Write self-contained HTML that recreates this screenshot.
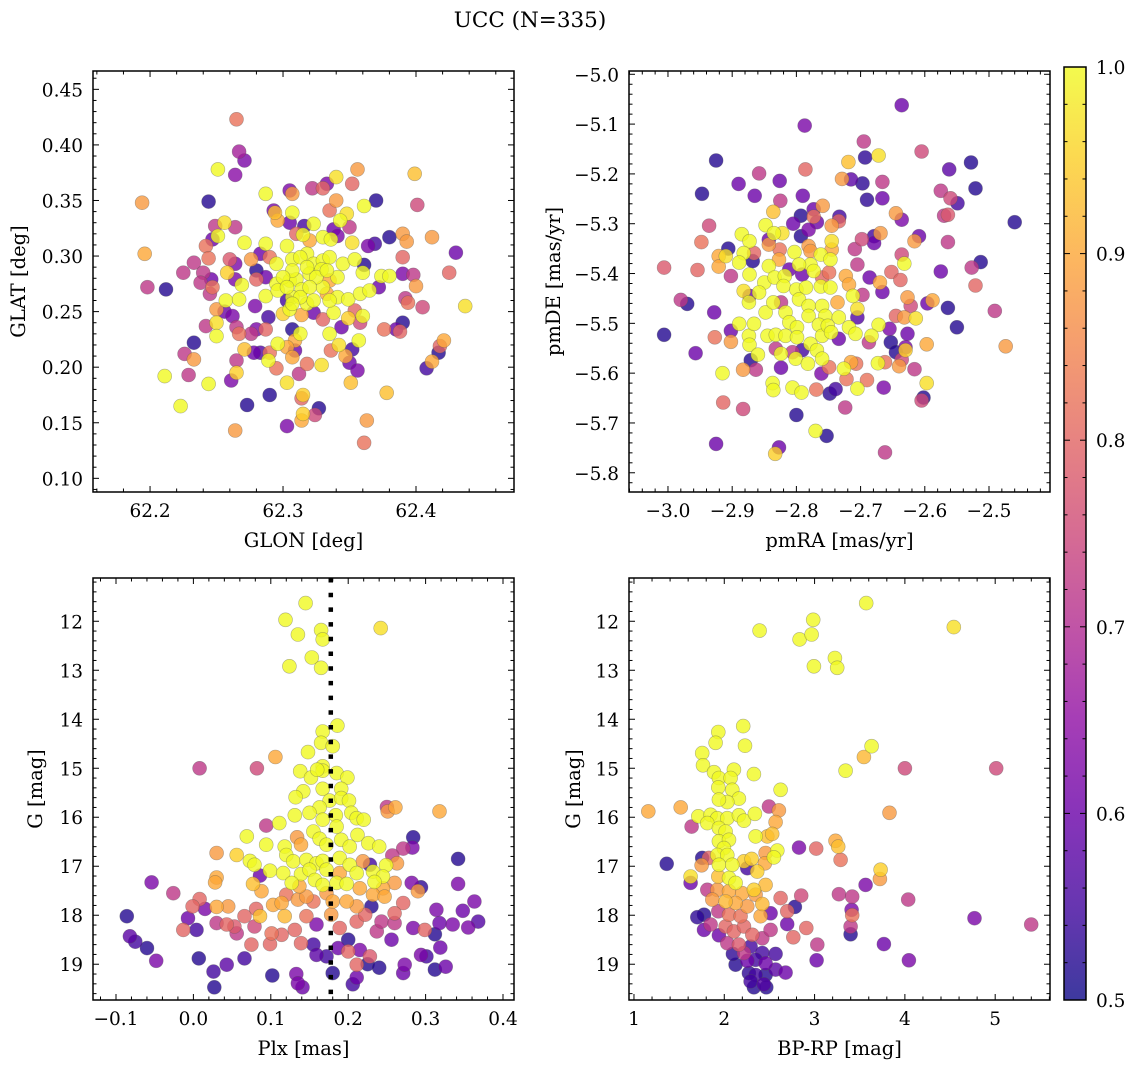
<!DOCTYPE html>
<html><head><meta charset="utf-8"><style>
html,body{margin:0;padding:0;background:#fff;}
svg{display:block;font-family:"DejaVu Serif","Liberation Serif",serif;}
</style></head><body>
<svg id="fig" width="1136" height="1067" viewBox="0 0 1136 1067">
<defs>
<linearGradient id="cbgrad" x1="0" y1="1" x2="0" y2="0">
<stop offset="0" stop-color="#0d0887"/><stop offset="0.1" stop-color="#41049d"/><stop offset="0.2" stop-color="#6a00a8"/><stop offset="0.3" stop-color="#8f0da4"/><stop offset="0.4" stop-color="#b12a90"/><stop offset="0.5" stop-color="#cc4778"/><stop offset="0.6" stop-color="#e16462"/><stop offset="0.7" stop-color="#f2844b"/><stop offset="0.8" stop-color="#fca636"/><stop offset="0.9" stop-color="#fcce25"/><stop offset="1" stop-color="#f0f921"/>
</linearGradient>
</defs>
<text x="530" y="27" text-anchor="middle" font-size="21.5">UCC (N=335)</text>
</svg>
<script>
// ---------- DATA ----------
const glonGlatProb = [
[62.265,.423,.82],[62.267,.394,.68],[62.271,.386,.62],[62.264,.373,.64],[62.251,.378,1],[62.194,.348,.88],[62.244,.349,.52],[62.287,.356,1],[62.305,.359,.62],[62.307,.356,.88],
[62.322,.361,.72],[62.330,.361,.8],[62.333,.365,.62],[62.340,.371,.97],[62.352,.365,.8],[62.356,.378,.88],[62.399,.374,.93],[62.370,.350,.52],[62.401,.346,.75],[62.361,.345,1],
[62.293,.341,.62],[62.294,.339,.93],[62.307,.339,1],[62.296,.332,.9],[62.305,.330,.6],[62.316,.327,.55],[62.323,.329,1],[62.338,.324,.6],[62.343,.332,1],[62.348,.338,.97],
[62.335,.341,.82],[62.340,.350,.88],[62.350,.326,.72],[62.256,.330,.97],[62.249,.327,.72],[62.264,.326,.72],[62.251,.318,1],[62.247,.315,.6],[62.242,.309,.82],[62.271,.312,1],
[62.287,.311,1],[62.303,.309,1],[62.315,.319,1],[62.310,.320,.8],[62.320,.314,.9],[62.330,.317,1],[62.336,.315,1],[62.341,.318,.62],[62.352,.312,.97],[62.364,.309,.62],
[62.369,.311,.55],[62.380,.317,.52],[62.390,.320,.88],[62.393,.313,.88],[62.412,.317,.88],[62.430,.303,.6],[62.196,.302,.9],[62.233,.294,.72],[62.244,.298,.82],[62.260,.297,.78],
[62.264,.293,.62],[62.276,.297,.88],[62.283,.302,.6],[62.290,.299,.82],[62.295,.293,1],[62.307,.297,1],[62.318,.302,1],[62.323,.293,1],[62.330,.296,1],[62.335,.299,1],
[62.345,.293,1],[62.354,.297,1],[62.361,.292,.52],[62.360,.285,1],[62.374,.282,1],[62.380,.282,1],[62.390,.284,.62],[62.398,.283,.72],[62.390,.299,.8],[62.425,.285,.8],
[62.400,.273,.88],[62.372,.272,.6],[62.225,.285,.72],[62.240,.285,.72],[62.238,.276,.72],[62.246,.279,.6],[62.247,.272,.82],[62.245,.266,.72],[62.258,.285,.95],[62.264,.279,.62],
[62.269,.274,1],[62.280,.287,.52],[62.287,.281,.6],[62.280,.279,.8],[62.295,.275,1],[62.305,.278,1],[62.310,.279,1],[62.314,.270,1],[62.320,.284,1],[62.329,.288,1],
[62.330,.272,1],[62.335,.278,.9],[62.341,.281,1],[62.198,.272,.72],[62.212,.270,.52],[62.257,.260,1],[62.267,.261,1],[62.287,.264,1],[62.296,.269,1],[62.303,.260,.55],
[62.307,.263,1],[62.318,.257,1],[62.323,.260,1],[62.333,.266,.9],[62.341,.263,1],[62.349,.261,1],[62.358,.266,1],[62.365,.269,1],[62.392,.262,.72],[62.394,.258,.82],
[62.405,.254,.75],[62.437,.255,.97],[62.250,.252,.88],[62.256,.250,.6],[62.262,.246,.62],[62.279,.255,.62],[62.289,.245,.55],[62.300,.248,.95],[62.305,.252,1],[62.314,.247,.9],
[62.323,.249,.6],[62.330,.243,.8],[62.338,.249,1],[62.349,.244,.95],[62.354,.251,.8],[62.358,.240,.75],[62.360,.246,1],[62.242,.237,.72],[62.250,.240,.97],[62.250,.228,1],
[62.265,.236,.72],[62.267,.230,.82],[62.276,.230,.72],[62.280,.234,.62],[62.287,.234,.8],[62.307,.234,.52],[62.313,.230,1],[62.309,.224,.9],[62.296,.221,1],[62.303,.218,.9],
[62.335,.230,1],[62.344,.236,.6],[62.376,.234,.82],[62.385,.234,.6],[62.390,.240,.52],[62.388,.232,.8],[62.421,.224,.9],[62.418,.219,.8],[62.417,.213,.52],[62.412,.205,.9],
[62.408,.199,.55],[62.233,.222,.52],[62.226,.212,.72],[62.233,.207,.88],[62.271,.216,.93],[62.278,.213,.6],[62.283,.213,.57],[62.290,.213,.82],[62.289,.206,1],[62.295,.199,.82],
[62.307,.209,.9],[62.309,.215,.6],[62.318,.203,.82],[62.329,.202,.97],[62.336,.215,.82],[62.342,.220,.97],[62.347,.210,.9],[62.352,.216,.55],[62.350,.204,.6],[62.356,.197,.62],
[62.357,.224,1],[62.265,.206,.72],[62.265,.195,.95],[62.261,.188,.62],[62.229,.193,.72],[62.211,.192,1],[62.244,.185,1],[62.303,.186,.97],[62.312,.194,.72],[62.351,.186,.93],
[62.378,.177,.93],[62.223,.165,1],[62.273,.166,.52],[62.290,.175,.52],[62.315,.175,.95],[62.314,.172,.8],[62.315,.158,.95],[62.314,.152,.9],[62.324,.157,.75],[62.327,.163,.52],
[62.303,.147,.62],[62.264,.143,.88],[62.363,.152,.88],[62.361,.132,.82],
[62.313,.299,1],[62.318,.290,1],[62.307,.287,1],[62.325,.281,1],[62.333,.287,1],[62.313,.263,1],[62.300,.281,1],[62.320,.272,1],[62.335,.260,1],[62.303,.272,1],[62.307,.257,1]
];
const pmraPmdeProb = [
[-2.636,-5.062,.6],[-2.787,-5.103,.62],[-2.695,-5.135,.72],[-2.605,-5.155,.75],[-2.925,-5.173,.52],[-2.719,-5.176,.93],[-2.693,-5.167,.53],[-2.672,-5.163,.97],[-2.528,-5.177,.52],[-2.562,-5.191,.58],
[-2.521,-5.229,.52],[-2.786,-5.191,.8],[-2.858,-5.199,.72],[-2.890,-5.220,.6],[-2.947,-5.240,.52],[-2.865,-5.244,.6],[-2.826,-5.214,.6],[-2.790,-5.244,.6],[-2.729,-5.210,.88],[-2.715,-5.211,.58],
[-2.697,-5.219,.53],[-2.666,-5.216,.72],[-2.690,-5.252,.53],[-2.666,-5.249,.6],[-2.575,-5.234,.72],[-2.560,-5.249,.75],[-2.549,-5.259,.55],[-2.570,-5.284,.72],[-2.564,-5.282,.78],[-2.460,-5.297,.52],
[-2.825,-5.254,.72],[-2.836,-5.276,.93],[-2.759,-5.264,.88],[-2.773,-5.271,.6],[-2.793,-5.284,.52],[-2.773,-5.286,.82],[-2.768,-5.297,.6],[-2.733,-5.286,.55],[-2.734,-5.295,.8],[-2.745,-5.304,.88],
[-2.805,-5.300,.6],[-2.781,-5.312,.62],[-2.645,-5.279,.88],[-2.636,-5.292,.62],[-2.936,-5.304,.75],[-2.848,-5.303,1],[-2.835,-5.319,1],[-2.822,-5.319,.97],[-2.885,-5.321,1],[-2.873,-5.335,1],
[-2.948,-5.337,.82],[-2.906,-5.350,.52],[-2.843,-5.332,.6],[-2.843,-5.342,.88],[-2.826,-5.352,.82],[-2.793,-5.325,.52],[-2.781,-5.345,.88],[-2.745,-5.335,.97],[-2.745,-5.352,.9],[-2.698,-5.331,.75],
[-2.679,-5.339,.6],[-2.669,-5.319,.88],[-2.679,-5.325,.55],[-2.709,-5.351,.72],[-2.616,-5.335,.88],[-2.609,-5.325,.6],[-2.564,-5.337,.72],[-2.921,-5.365,.9],[-2.910,-5.365,.97],[-2.921,-5.386,.9],
[-2.882,-5.359,1],[-2.889,-5.378,1],[-2.868,-5.375,.52],[-2.866,-5.359,.8],[-2.803,-5.357,1],[-2.778,-5.355,.88],[-2.762,-5.362,1],[-2.778,-5.382,1],[-2.796,-5.382,1],[-2.747,-5.372,1],
[-2.843,-5.385,1],[-2.827,-5.372,.9],[-2.811,-5.392,.6],[-2.773,-5.395,1],[-2.749,-5.398,.82],[-2.705,-5.382,.72],[-2.636,-5.362,.75],[-2.632,-5.380,1],[-2.513,-5.377,.52],[-2.527,-5.388,.72],
[-3.006,-5.388,.78],[-2.954,-5.393,.8],[-2.902,-5.405,.72],[-2.873,-5.402,1],[-2.850,-5.418,1],[-2.834,-5.408,1],[-2.818,-5.405,1],[-2.791,-5.402,.6],[-2.760,-5.408,.8],[-2.723,-5.405,.9],
[-2.686,-5.408,.6],[-2.670,-5.418,.9],[-2.652,-5.397,.8],[-2.638,-5.413,.8],[-2.575,-5.396,.6],[-2.521,-5.424,.8],[-2.882,-5.435,.97],[-2.873,-5.445,.6],[-2.858,-5.438,1],[-2.820,-5.425,1],
[-2.800,-5.432,1],[-2.785,-5.428,1],[-2.762,-5.426,1],[-2.747,-5.428,1],[-2.718,-5.422,.9],[-2.712,-5.445,1],[-2.697,-5.443,.72],[-2.666,-5.437,.6],[-2.627,-5.448,.88],[-2.588,-5.454,.9],
[-2.596,-5.460,.6],[-2.622,-5.465,.75],[-2.980,-5.453,.72],[-2.970,-5.461,.52],[-2.928,-5.478,.6],[-2.902,-5.515,.6],[-2.889,-5.501,1],[-2.927,-5.528,.82],[-2.902,-5.537,.88],[-3.006,-5.523,.52],
[-2.957,-5.560,.6],[-2.874,-5.458,1],[-2.848,-5.478,1],[-2.836,-5.458,1],[-2.824,-5.458,.72],[-2.817,-5.478,1],[-2.811,-5.498,1],[-2.796,-5.452,1],[-2.781,-5.465,1],[-2.781,-5.485,1],
[-2.760,-5.465,1],[-2.755,-5.485,1],[-2.736,-5.458,.9],[-2.734,-5.488,1],[-2.718,-5.508,1],[-2.705,-5.488,.57],[-2.705,-5.471,.97],[-2.672,-5.503,1],[-2.655,-5.511,.62],[-2.645,-5.485,.8],
[-2.632,-5.488,.88],[-2.614,-5.490,.97],[-2.564,-5.469,.52],[-2.550,-5.508,.52],[-2.491,-5.475,.72],[-2.874,-5.525,1],[-2.866,-5.501,1],[-2.845,-5.525,1],[-2.832,-5.523,1],[-2.817,-5.525,1],
[-2.799,-5.508,1],[-2.799,-5.528,1],[-2.778,-5.541,1],[-2.765,-5.503,1],[-2.760,-5.525,1],[-2.751,-5.505,1],[-2.746,-5.518,1],[-2.734,-5.531,.6],[-2.708,-5.521,1],[-2.683,-5.525,1],
[-2.687,-5.538,.72],[-2.627,-5.521,.6],[-2.653,-5.538,.52],[-2.645,-5.558,.52],[-2.630,-5.548,.62],[-2.630,-5.554,.95],[-2.597,-5.542,.9],[-2.474,-5.546,.88],[-2.871,-5.574,.52],[-2.863,-5.593,.72],
[-2.873,-5.543,1],[-2.860,-5.563,1],[-2.832,-5.551,.72],[-2.824,-5.561,1],[-2.806,-5.558,.72],[-2.791,-5.554,.55],[-2.801,-5.571,1],[-2.782,-5.581,1],[-2.768,-5.554,1],[-2.760,-5.571,1],
[-2.749,-5.588,.82],[-2.761,-5.601,.62],[-2.824,-5.589,.6],[-2.915,-5.600,1],[-2.883,-5.593,.88],[-2.726,-5.591,1],[-2.715,-5.578,.9],[-2.707,-5.581,.82],[-2.662,-5.578,.82],[-2.673,-5.580,1],
[-2.640,-5.586,.88],[-2.636,-5.573,.75],[-2.616,-5.592,.72],[-2.722,-5.612,.82],[-2.690,-5.614,.82],[-2.664,-5.629,.62],[-2.597,-5.620,.97],[-2.837,-5.620,1],[-2.836,-5.634,1],[-2.806,-5.629,1],
[-2.792,-5.639,1],[-2.769,-5.633,.82],[-2.748,-5.641,.53],[-2.739,-5.632,.55],[-2.705,-5.631,1],[-2.602,-5.649,.52],[-2.605,-5.655,.75],[-2.914,-5.659,.8],[-2.883,-5.672,.75],[-2.724,-5.669,.72],
[-2.800,-5.684,.52],[-2.770,-5.716,1],[-2.753,-5.726,.52],[-2.925,-5.742,.6],[-2.827,-5.749,.6],[-2.833,-5.762,.95],[-2.662,-5.759,.72]
];
const plxGmagProb = [
[0.145,11.63,1],[0.119,11.97,1],[0.135,12.27,1],[0.165,12.18,1],[0.167,12.37,1],[0.242,12.14,.97],[0.153,12.74,1],[0.124,12.92,1],[0.165,12.95,1],[0.186,14.13,1],
[0.167,14.25,1],[0.165,14.48,1],[0.180,14.55,1],[0.148,14.67,1],[0.106,14.77,.9],[0.008,15.00,.72],[0.082,15.00,.75],[0.138,15.06,1],[0.152,15.19,1],[0.167,14.96,1],
[0.167,15.05,1],[0.185,15.10,1],[0.199,15.19,1],[0.160,15.03,1],[0.142,15.47,1],[0.167,15.42,1],[0.191,15.42,1],[0.132,15.59,1],[0.176,15.66,1],[0.191,15.61,1],
[0.201,15.66,1],[0.163,15.80,1],[0.150,15.91,1],[0.131,15.96,1],[0.184,15.96,1],[0.204,15.91,1],[0.211,16.02,1],[0.220,16.05,1],[0.250,15.79,.72],[0.251,15.88,.88],
[0.261,15.80,.9],[0.318,15.88,.9],[0.111,16.12,1],[0.094,16.17,.72],[0.167,16.05,1],[0.185,16.19,1],[0.069,16.39,1],[0.094,16.56,1],[0.134,16.41,.88],[0.118,16.60,1],
[0.139,16.56,.9],[0.155,16.29,1],[0.163,16.44,1],[0.172,16.56,1],[0.191,16.46,1],[0.202,16.60,1],[0.212,16.36,1],[0.226,16.53,1],[0.240,16.60,1],[0.284,16.41,.52],
[0.283,16.62,.62],[0.271,16.64,.72],[0.342,16.85,.52],[0.030,16.73,.88],[0.056,16.77,.95],[0.073,16.89,1],[0.079,16.97,1],[0.120,16.77,1],[0.129,16.90,1],[0.146,16.87,1],
[0.159,16.94,1],[0.167,16.89,1],[0.189,16.83,1],[0.202,16.97,1],[0.219,16.90,.88],[0.228,16.97,.55],[0.249,16.98,1],[0.257,16.78,.72],[0.263,16.94,.88],[0.099,17.09,1],
[0.116,17.14,1],[0.139,17.16,1],[0.150,17.07,1],[0.172,17.07,1],[0.189,17.14,.9],[0.211,17.14,1],[0.232,17.11,1],[0.245,17.21,1],[0.086,17.19,.6],[-0.054,17.33,.62],
[-0.026,17.55,.72],[0.030,17.23,.9],[0.028,17.33,.9],[0.077,17.36,.93],[0.088,17.51,.9],[0.127,17.34,1],[0.137,17.41,.9],[0.157,17.28,1],[0.167,17.38,1],[0.185,17.34,1],
[0.198,17.36,1],[0.215,17.45,.9],[0.234,17.32,1],[0.245,17.45,.9],[0.260,17.34,.88],[0.282,17.34,.62],[0.294,17.43,.53],[0.290,17.51,.88],[0.342,17.36,.62],[0.008,17.67,.8],
[-0.001,17.82,.8],[0.015,17.87,.62],[0.030,17.83,.9],[0.045,17.82,.88],[0.081,17.87,.8],[0.103,17.79,.9],[0.120,17.58,.82],[0.114,17.75,.9],[0.135,17.68,.88],[0.146,17.62,.88],
[0.155,17.72,.82],[0.172,17.55,.88],[0.180,17.72,.9],[0.198,17.72,.9],[0.211,17.82,.88],[0.232,17.58,.9],[0.247,17.62,.9],[0.271,17.75,.8],[0.230,17.82,.52],[0.314,17.89,.62],
[0.348,17.91,.6],[0.363,17.72,.62],[-0.086,18.02,.52],[-0.007,18.06,.6],[-0.013,18.30,.8],[0.004,18.30,.55],[0.030,18.16,.72],[0.043,18.19,.8],[0.053,18.23,.78],[0.056,18.37,.72],
[0.066,18.02,.8],[0.079,18.23,.75],[0.086,18.02,.93],[0.101,18.37,.82],[0.114,18.40,.8],[0.118,18.02,.92],[0.131,18.30,.8],[0.146,18.02,.82],[0.159,18.19,.62],[0.178,17.99,.88],
[0.189,18.26,.8],[0.211,18.13,.8],[0.222,17.99,.8],[0.237,18.33,.72],[0.243,18.13,.72],[0.260,17.96,.8],[0.260,18.16,.72],[0.284,18.26,.62],[0.299,18.30,.8],[0.318,18.16,.6],
[0.335,18.19,.62],[0.355,18.25,.62],[0.368,18.13,.57],[0.312,18.39,.52],[-0.082,18.43,.58],[-0.075,18.54,.55],[-0.060,18.67,.52],[-0.048,18.93,.62],[0.007,18.88,.52],[0.026,19.15,.55],
[0.043,19.01,.58],[0.066,18.88,.55],[0.075,18.60,.8],[0.099,18.59,.8],[0.139,18.57,.8],[0.155,18.60,.55],[0.159,18.81,.58],[0.172,18.84,.55],[0.187,18.67,.6],[0.200,18.50,.52],
[0.200,18.74,.8],[0.215,18.71,.62],[0.211,19.01,.8],[0.225,19.00,.52],[0.240,19.07,.52],[0.228,18.84,.78],[0.256,18.50,.6],[0.273,19.01,.62],[0.294,18.81,.62],[0.301,18.84,.55],
[0.319,18.66,.6],[0.312,19.11,.52],[0.326,19.05,.6],[0.271,19.18,.6],[0.102,19.23,.52],[0.133,19.20,.62],[0.135,19.39,.62],[0.141,19.47,.6],[0.180,19.18,.52],[0.211,19.27,.6],
[0.206,19.41,.55],[0.027,19.47,.52]
];
const bprpGmagProb = [
[3.572,11.63,1],[2.985,11.97,1],[2.391,12.19,1],[2.834,12.37,1],[2.967,12.27,1],[4.542,12.12,.97],[2.993,12.92,1],[3.225,12.75,1],[3.251,12.95,1],[2.210,14.14,1],
[1.934,14.26,1],[1.904,14.48,1],[2.229,14.54,1],[1.756,14.69,1],[1.764,14.94,1],[3.631,14.55,1],[3.546,14.77,.92],[3.343,15.05,1],[4.000,15.00,.75],[5.011,15.00,.75],
[1.886,15.08,1],[1.941,15.20,1],[2.107,15.03,1],[2.070,15.20,1],[2.328,15.12,1],[1.934,15.39,1],[2.089,15.44,1],[2.624,15.44,1],[2.162,15.62,1],[2.033,15.69,1],
[1.941,15.64,1],[1.159,15.88,.9],[1.517,15.80,.9],[2.494,15.78,.72],[2.605,15.86,.88],[3.830,15.91,.88],[1.712,15.98,1],[1.849,15.95,1],[1.923,16.02,1],[2.033,16.02,1],
[2.162,15.96,1],[2.218,16.07,1],[2.339,15.93,1],[2.568,16.10,.9],[1.638,16.19,.72],[1.812,16.12,1],[1.941,16.22,1],[2.015,16.29,1],[2.347,16.39,1],[2.476,16.39,.93],
[2.531,16.34,.93],[1.941,16.49,1],[2.052,16.46,1],[1.996,16.63,1],[2.827,16.62,.62],[3.018,16.64,.8],[3.232,16.48,.9],[3.262,16.60,.93],[3.288,16.87,.82],[2.587,16.68,1],
[2.550,16.82,1],[2.458,16.73,.88],[1.756,16.83,.52],[1.830,16.83,.8],[1.749,16.98,.88],[1.362,16.95,.52],[1.923,16.77,1],[2.033,16.77,1],[1.941,16.97,1],[2.089,16.97,1],
[2.218,16.90,.95],[2.303,16.85,.95],[2.450,16.94,.9],[2.255,17.04,.55],[2.365,17.11,.95],[3.731,17.07,.95],[3.723,17.26,.88],[1.627,17.21,.97],[1.627,17.34,.6],[1.934,17.21,.93],
[2.052,17.24,1],[2.125,17.34,1],[2.328,17.48,.95],[2.458,17.38,.92],[1.812,17.48,.72],[1.923,17.48,.88],[2.052,17.51,.9],[2.199,17.55,.9],[2.347,17.58,.88],[3.565,17.38,.62],
[3.269,17.57,.72],[3.417,17.62,.72],[2.852,17.60,.75],[2.624,17.65,.8],[1.867,17.68,.88],[2.015,17.72,.92],[2.125,17.75,.9],[2.255,17.82,.88],[2.421,17.77,.92],[4.037,17.68,.72],
[2.782,17.83,.52],[2.697,17.92,.8],[2.697,18.18,.6],[1.701,18.04,.53],[1.775,17.99,.52],[1.934,17.92,.72],[2.052,17.99,.82],[2.181,18.02,.82],[2.402,18.02,.9],[2.513,17.96,.6],
[3.410,17.89,.62],[3.417,18.00,.82],[3.399,18.23,.72],[3.399,18.39,.52],[4.771,18.06,.62],[5.399,18.19,.72],[1.775,18.30,.6],[1.849,18.19,.72],[1.941,18.41,.6],[2.015,18.23,.8],
[2.107,18.33,.8],[2.218,18.23,.8],[2.310,18.40,.8],[2.421,18.47,.72],[2.513,18.30,.72],[2.908,18.26,.8],[2.764,18.45,.8],[2.033,18.57,.72],[2.162,18.60,.78],[2.292,18.64,.55],
[3.030,18.60,.72],[3.768,18.59,.6],[2.096,18.79,.53],[2.218,18.77,.72],[2.421,18.77,.55],[2.568,18.79,.55],[2.347,18.91,.55],[2.458,18.98,.6],[2.568,19.11,.58],[2.679,19.17,.6],
[2.125,19.01,.52],[2.255,18.93,.6],[2.273,19.18,.53],[2.347,19.22,.55],[2.458,19.22,.52],[2.292,19.35,.55],[2.439,19.41,.57],[2.328,19.47,.52],[2.465,19.47,.52],[3.022,18.92,.6],
[4.044,18.92,.62]
];
const plxLineValue = 0.1775;
const p1XTicks = [62.2, 62.3, 62.4];
const p1YTicks = [0.10,0.15,0.20,0.25,0.30,0.35,0.40,0.45];
const p2XTicks = [-3.0,-2.9,-2.8,-2.7,-2.6,-2.5];
const p2YTicks = [-5.8,-5.7,-5.6,-5.5,-5.4,-5.3,-5.2,-5.1,-5.0];
const p3XTicks = [-0.1,0.0,0.1,0.2,0.3,0.4];
const gTicks = [12,13,14,15,16,17,18,19];
const p4XTicks = [1,2,3,4,5];
const cbTicks = [0.5,0.6,0.7,0.8,0.9,1.0];

// ---------- DRAWING ----------
const NS = "http://www.w3.org/2000/svg";
const svg = document.getElementById('fig');
function mk(tag, attrs, parent){const e=document.createElementNS(NS,tag);for(const k in attrs)e.setAttribute(k,attrs[k]);(parent||svg).appendChild(e);return e;}
const plasma=[[13,8,135],[65,4,157],[106,0,168],[143,13,164],[177,42,144],[204,71,120],[225,100,98],[242,132,75],[252,166,54],[252,206,37],[240,249,33]];
function cmap(p){let t=(p-0.5)/0.5;t=Math.max(0,Math.min(1,t));const f=t*10,i=Math.min(9,Math.floor(f)),r=f-i;const a=plasma[i],b=plasma[i+1];return 'rgb('+a.map((v,k)=>Math.round(v+(b[k]-v)*r)).join(',')+')';}
function fmt(v,d){const s=Math.abs(v).toFixed(d);return (v<0?'\u2212':'')+s;}

function panel(cfg){
  const g=mk('g',{});
  
  
  const {L,R,T,B,x0,x1,y0,y1}=cfg;
  const sx=v=>L+(v-x0)/(x1-x0)*(R-L);
  const sy=v=>cfg.invert? T+(v-y0)/(y1-y0)*(B-T) : B-(v-y0)/(y1-y0)*(B-T);
  const clip=mk('clipPath',{id:cfg.name+'-clip'},g);mk('rect',{x:L,y:T,width:R-L,height:B-T},clip);
  const pts=mk('g',{'clip-path':'url(#'+cfg.name+'-clip)'},g);
  
  
  const data=cfg.data.slice().sort((a,b)=>a[2]-b[2]);
  data.forEach(d=>{
    const c=mk('circle',{cx:sx(d[0]).toFixed(1),cy:sy(d[1]).toFixed(1),r:7,fill:cmap(d[2]),'fill-opacity':0.8,stroke:'#555','stroke-opacity':0.45,'stroke-width':0.6},pts);
    
    
  });
  if(cfg.vline!==undefined){
    const l=mk('line',{x1:sx(cfg.vline),x2:sx(cfg.vline),y1:T,y2:B,stroke:'#000','stroke-width':4.5,'stroke-dasharray':'4.5 10.2'},pts);
    
    
  }
  const tk=mk('g',{stroke:'#000'},g);
  const xmaj=cfg.xt, ymaj=cfg.yt;
  const xstep=(xmaj[1]-xmaj[0])/cfg.xminor, ystep=(ymaj[1]-ymaj[0])/cfg.yminor;
  for(let v=Math.ceil((x0-1e-9)/xstep)*xstep; v<=x1; v+=xstep){
    const isMaj=xmaj.some(m=>Math.abs(m-v)<xstep/10);const len=isMaj?6:3.5;const X=sx(v);
    mk('line',{x1:X,x2:X,y1:B,y2:B-len,'stroke-width':1},tk);mk('line',{x1:X,x2:X,y1:T,y2:T+len,'stroke-width':1},tk);
  }
  for(let v=Math.ceil((Math.min(y0,y1)-1e-9)/ystep)*ystep; v<=Math.max(y0,y1); v+=ystep){
    const isMaj=ymaj.some(m=>Math.abs(m-v)<ystep/10);const len=isMaj?6:3.5;const Y=sy(v);
    mk('line',{x1:L,x2:L+len,y1:Y,y2:Y,'stroke-width':1},tk);mk('line',{x1:R,x2:R-len,y1:Y,y2:Y,'stroke-width':1},tk);
  }
  xmaj.forEach(v=>{const t=mk('text',{x:sx(v),y:B+25,'text-anchor':'middle','font-size':18.5},g);t.textContent=fmt(v,cfg.xd);
    
    });
  ymaj.forEach(v=>{const t=mk('text',{x:L-10,y:sy(v)+7,'text-anchor':'end','font-size':18.5},g);t.textContent=fmt(v,cfg.yd);
    
    });
  mk('rect',{x:L,y:T,width:R-L,height:B-T,fill:'none',stroke:'#000','stroke-width':1.5},g);
  const xl=mk('text',{x:(L+R)/2,y:B+55,'text-anchor':'middle','font-size':19.5},g);xl.textContent=cfg.xlabel;
  
  
  const yl=mk('text',{x:0,y:0,'text-anchor':'middle','font-size':19.5,transform:'translate('+cfg.ylx+','+(T+B)/2+') rotate(-90)'},g);yl.textContent=cfg.ylabel;
  
  
}

panel({name:'glon-glat-panel',L:93,R:514,T:71,B:492,x0:62.1571,x1:62.4737,y0:0.0877,y1:0.4665,xt:p1XTicks,yt:p1YTicks,xminor:5,yminor:5,xd:1,yd:2,data:glonGlatProb,xlabel:'GLON [deg]',ylabel:'GLAT [deg]',ylx:25});
panel({name:'pm-panel',L:629,R:1050,T:71,B:492,x0:-3.0607,x1:-2.405,y0:-5.8386,y1:-4.9934,xt:p2XTicks,yt:p2YTicks,xminor:5,yminor:5,xd:1,yd:1,data:pmraPmdeProb,xlabel:'pmRA [mas/yr]',ylabel:'pmDE [mas/yr]',ylx:560});
panel({name:'plx-g-panel',L:93,R:514,T:578,B:1000,x0:-0.1297,x1:0.4142,y0:11.117,y1:19.73,invert:true,xt:p3XTicks,yt:gTicks,xminor:5,yminor:5,xd:1,yd:0,data:plxGmagProb,vline:plxLineValue,xlabel:'Plx [mas]',ylabel:'G [mag]',ylx:42});
panel({name:'cmd-panel',L:629,R:1050,T:578,B:1000,x0:0.945,x1:5.607,y0:11.117,y1:19.73,invert:true,xt:p4XTicks,yt:gTicks,xminor:5,yminor:5,xd:0,yd:0,data:bprpGmagProb,xlabel:'BP-RP [mag]',ylabel:'G [mag]',ylx:580});

const cb=mk('g',{});


const cT=67,cB=1000,cL=1064,cR=1086;
mk('rect',{x:cL,y:cT,width:cR-cL,height:cB-cT,fill:'url(#cbgrad)','fill-opacity':0.8},cb);
const cy=v=>cB-(v-0.5)/0.5*(cB-cT);
for(let v=0.5;v<=1.0001;v+=0.02){const isMaj=cbTicks.some(m=>Math.abs(m-v)<0.005);const len=isMaj?6:3.5;
  mk('line',{x1:cR,x2:cR-len,y1:cy(v),y2:cy(v),stroke:'#000','stroke-width':1},cb);
  mk('line',{x1:cL,x2:cL+len,y1:cy(v),y2:cy(v),stroke:'#000','stroke-width':1},cb);}
cbTicks.forEach(v=>{const t=mk('text',{x:cR+10,y:cy(v)+7,'font-size':18.5},cb);t.textContent=v.toFixed(1);
  
  });
mk('rect',{x:cL,y:cT,width:cR-cL,height:cB-cT,fill:'none',stroke:'#000','stroke-width':1.5},cb);
</script>
</body></html>
